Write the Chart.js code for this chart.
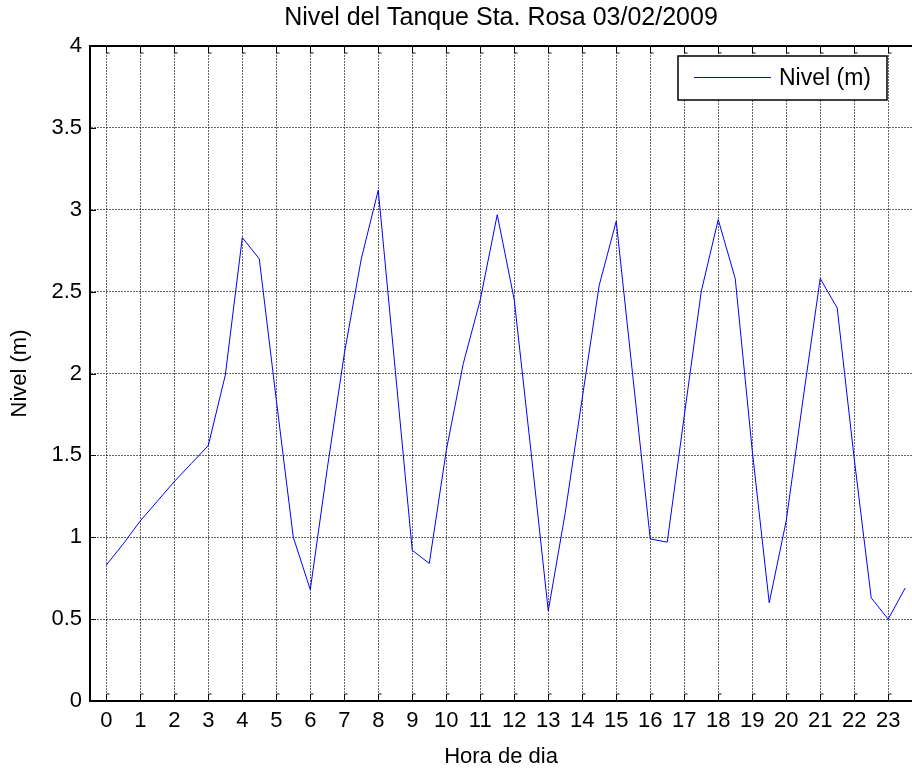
<!DOCTYPE html>
<html>
<head>
<meta charset="utf-8">
<title>Nivel del Tanque Sta. Rosa</title>
<script src="https://cdn.jsdelivr.net/npm/chart.js@4.4.1/dist/chart.umd.min.js"></script>
<style>
  html, body { margin: 0; padding: 0; background: #fff; }
  canvas { display: block; }
</style>
</head>
<body>
<canvas id="nivel-chart" width="912" height="774"></canvas>
<script>
// hora del dia (cada media hora) y nivel
const hours = [0, 0.5, 1, 1.5, 2, 2.5, 3, 3.5, 4, 4.5, 5, 5.5, 6, 6.5, 7, 7.5,
    8, 8.5, 9, 9.5, 10, 10.5, 11, 11.5, 12, 12.5, 13, 13.5, 14, 14.5, 15, 15.5,
    16, 16.5, 17, 17.5, 18, 18.5, 19, 19.5, 20, 20.5, 21, 21.5, 22, 22.5, 23, 23.5];
const nivel = [0.83, 0.96, 1.10, 1.22, 1.34, 1.45, 1.56, 1.99, 2.83, 2.70, 1.84, 1.00,
    0.68, 1.42, 2.12, 2.70, 3.12, 2.02, 0.92, 0.84, 1.53, 2.06, 2.45, 2.97,
    2.45, 1.51, 0.55, 1.15, 1.85, 2.54, 2.93, 1.96, 0.99, 0.97, 1.74, 2.50,
    2.94, 2.58, 1.53, 0.60, 1.10, 1.85, 2.58, 2.40, 1.48, 0.63, 0.50, 0.69];
const xTicks = [0, 1, 2, 3, 4, 5, 6, 7, 8, 9, 10, 11, 12, 13, 14, 15, 16, 17, 18, 19, 20, 21, 22, 23];
const yTicks = [0, 0.5, 1, 1.5, 2, 2.5, 3, 3.5, 4];

const chartTitle = 'Nivel del Tanque Sta. Rosa 03/02/2009';
const seriesLabel = 'Nivel (m)';

Chart.defaults.font.family = "'Liberation Sans', Arial, sans-serif";
Chart.defaults.color = '#000';

// MATLAB style frame: top border, inward ticks and boxed legend
const matlabFrame = {
    id: 'matlabFrame',
    afterDraw(chart) {
        const ctx = chart.ctx;
        const area = chart.chartArea;
        const x = chart.scales.x;
        const y = chart.scales.y;
        ctx.save();
        ctx.strokeStyle = '#000';

        ctx.lineWidth = 2;
        ctx.beginPath();
        ctx.moveTo(area.left, area.top);
        ctx.lineTo(area.right, area.top);
        ctx.stroke();

        ctx.lineWidth = 1;
        ctx.beginPath();
        xTicks.forEach(v => {
            const px = Math.round(x.getPixelForValue(v)) + 0.5;
            ctx.moveTo(px, area.bottom);
            ctx.lineTo(px, area.bottom - 7);
            ctx.lineTo(px + 3, area.bottom - 7);
            ctx.moveTo(px, area.top);
            ctx.lineTo(px, area.top + 7);
            ctx.lineTo(px + 3, area.top + 7);
        });
        yTicks.forEach(v => {
            const py = Math.round(y.getPixelForValue(v)) + 0.5;
            ctx.moveTo(area.left, py);
            ctx.lineTo(area.left + 6, py);
        });
        ctx.stroke();

        // legend
        const ds = chart.data.datasets[0];
        const boxW = 209, boxH = 44;
        const bx = area.right - 25 - boxW;
        const by = area.top + 10;
        ctx.fillStyle = '#fff';
        ctx.fillRect(bx, by, boxW, boxH);
        ctx.strokeStyle = '#000';
        ctx.lineWidth = 1.5;
        ctx.strokeRect(bx, by, boxW, boxH);
        ctx.strokeStyle = ds.borderColor;
        ctx.lineWidth = 1;
        ctx.beginPath();
        ctx.moveTo(bx + 16, by + 21.5);
        ctx.lineTo(bx + 93, by + 21.5);
        ctx.stroke();
        ctx.fillStyle = '#000';
        ctx.font = "23px 'Liberation Sans', Arial, sans-serif";
        ctx.textBaseline = 'middle';
        ctx.fillText(ds.label, bx + 101, by + 23);
        ctx.restore();
    }
};

const ctx = document.getElementById('nivel-chart').getContext('2d');
const nivelChart = new Chart(ctx, {
    type: 'line',
    data: {
        datasets: [{
            label: seriesLabel,
            data: hours.map((h, i) => ({ x: h, y: nivel[i] })),
            borderColor: '#0000ff',
            borderWidth: 1,
            pointRadius: 0,
            tension: 0,
            fill: false
        }]
    },
    options: {
        responsive: false,
        animation: false,
        layout: { padding: 0 },
        plugins: {
            legend: { display: false },
            tooltip: { enabled: false },
            title: {
                display: true,
                text: chartTitle,
                fullSize: false,
                color: '#000',
                font: { size: 25, weight: 'normal' },
                padding: { top: 3, bottom: 13 }
            }
        },
        scales: {
            x: {
                type: 'linear',
                min: -0.48,
                max: 23.7,
                afterFit: s => { s.height = 73; },
                afterBuildTicks: s => { s.ticks = xTicks.map(v => ({ value: v })); },
                ticks: {
                    font: { size: 22 },
                    padding: 7,
                    maxRotation: 0,
                    autoSkip: false,
                    callback: v => String(v)
                },
                grid: { color: 'rgba(0,0,0,0.6)', drawTicks: false },
                border: { color: '#000', width: 2, dash: [2, 1] },
                title: {
                    display: true,
                    text: 'Hora de dia',
                    font: { size: 22 },
                    padding: { bottom: 4 }
                }
            },
            y: {
                min: 0,
                max: 4,
                afterFit: s => { s.width = 90; },
                afterBuildTicks: s => { s.ticks = yTicks.map(v => ({ value: v })); },
                ticks: { font: { size: 22 }, padding: 8, callback: v => String(v) },
                grid: { color: 'rgba(0,0,0,0.6)', drawTicks: false },
                border: { color: '#000', width: 2, dash: [2, 1] },
                title: {
                    display: true,
                    text: 'Nivel (m)',
                    font: { size: 22 },
                    padding: { top: 7 }
                }
            }
        }
    },
    plugins: [matlabFrame]
});
</script>
</body>
</html>
